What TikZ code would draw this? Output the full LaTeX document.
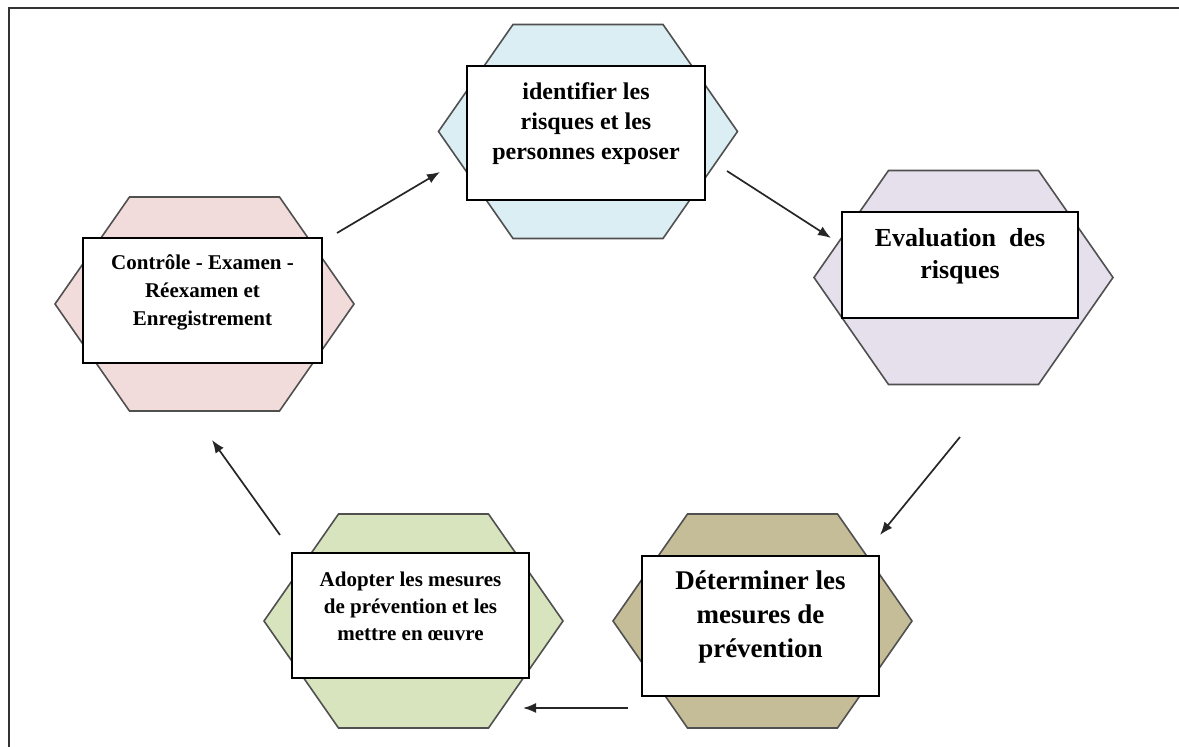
\documentclass[tikz,border=0pt]{standalone}
\usepackage{fontspec}
\setmainfont{Liberation Serif}
\usepackage{xcolor}
\usetikzlibrary{arrows.meta}
\usetikzlibrary{positioning, math}
\definecolor{hexblue}{RGB}{218,238,243}
\definecolor{hexpink}{RGB}{242,220,219}
\definecolor{hexviolet}{RGB}{229,224,236}
\definecolor{hextan}{RGB}{196,189,151}
\definecolor{hexgreen}{RGB}{215,228,189}
\definecolor{hexline}{RGB}{80,80,80}
\tikzset{
  hexcell/.style={draw=hexline, line width=0.8pt},
  cellbox/.style 2 args={draw, line width=0.8pt, fill=white, inner sep=0pt,
    minimum width=#1, minimum height=#2},
  celltext/.style={inner sep=0pt, align=center, font=\bfseries},
  cyclearrow/.style={draw=black!85, line width=0.85pt, -{Latex[length=6.5pt,width=5pt]}}
}

\begin{document}
\begin{tikzpicture}[x=0.5pt, y=-0.5pt]

\tikzmath{
\HW = 149.5;
\HT = 75;
\HH = 107;
}
\useasboundingbox (0,0) rectangle (1179,747);

%frame
\draw[line width=1.1pt, black!80] (1179,8) -- (9,8) -- (9,747);

%hexagons
\foreach \cx/\cy/\fc in {588/131.5/hexblue, 204.5/304/hexpink, 963.5/277.5/hexviolet,
                         762.5/621/hextan, 413.5/621/hexgreen}{
  \filldraw[hexcell, fill=\fc] (\cx-\HW,\cy) -- (\cx-\HT,\cy-\HH) -- (\cx+\HT,\cy-\HH)
    -- (\cx+\HW,\cy) -- (\cx+\HT,\cy+\HH) -- (\cx-\HT,\cy+\HH) -- cycle;
}

%boxes
\node[cellbox={119pt}{67pt}] (identbox) at (586,133) {};
\node[cellbox={119.5pt}{62.5pt}] (ctrlbox) at (202.5,300.5) {};
\node[cellbox={118pt}{53pt}] (evalbox) at (960,265) {};
\node[cellbox={118.5pt}{70pt}] (detbox) at (760.5,626) {};
\node[cellbox={118.5pt}{62.5pt}] (adoptbox) at (410.5,615.5) {};

%texts
\node[celltext, font=\bfseries\fontsize{12}{15}\selectfont, below=8.5pt of identbox.north] (identtxt)
  {identifier les\\risques et les\\personnes exposer};
\node[celltext, font=\bfseries\fontsize{10.5}{14}\selectfont, below=8.5pt of ctrlbox.north] (ctrltxt)
  {Contrôle - Examen -\\Réexamen et\\Enregistrement};
\node[celltext, font=\bfseries\fontsize{13}{16}\selectfont, below=8.5pt of evalbox.north] (evaltxt)
  {Evaluation\ \ des\\risques};
\node[celltext, font=\bfseries\fontsize{13.5}{17}\selectfont, below=7.5pt of detbox.north] (dettxt)
  {Déterminer les\\mesures de\\prévention};
\node[celltext, font=\bfseries\fontsize{10.5}{13.5}\selectfont, below=9.5pt of adoptbox.north] (adopttxt)
  {Adopter les mesures\\de prévention et les\\mettre en œuvre};

%arrows
\coordinate (ctrlout) at (337,233);
\coordinate (identin) at (440,172);
\coordinate (identout) at (727,171);
\coordinate (evalin) at (831,238);
\coordinate (evalout) at (960,437);
\coordinate (detin) at (880,535);
\coordinate (detout) at (628,708);
\coordinate (adoptin) at (523,708);
\coordinate (adoptout) at (280,535);
\coordinate (ctrlin) at (212,440);

\draw[cyclearrow] (ctrlout) -- (identin);
\draw[cyclearrow] (identout) -- (evalin);
\draw[cyclearrow] (evalout) -- (detin);
\draw[cyclearrow] (detout) -- (adoptin);
\draw[cyclearrow] (adoptout) -- (ctrlin);

\end{tikzpicture}
\end{document}
